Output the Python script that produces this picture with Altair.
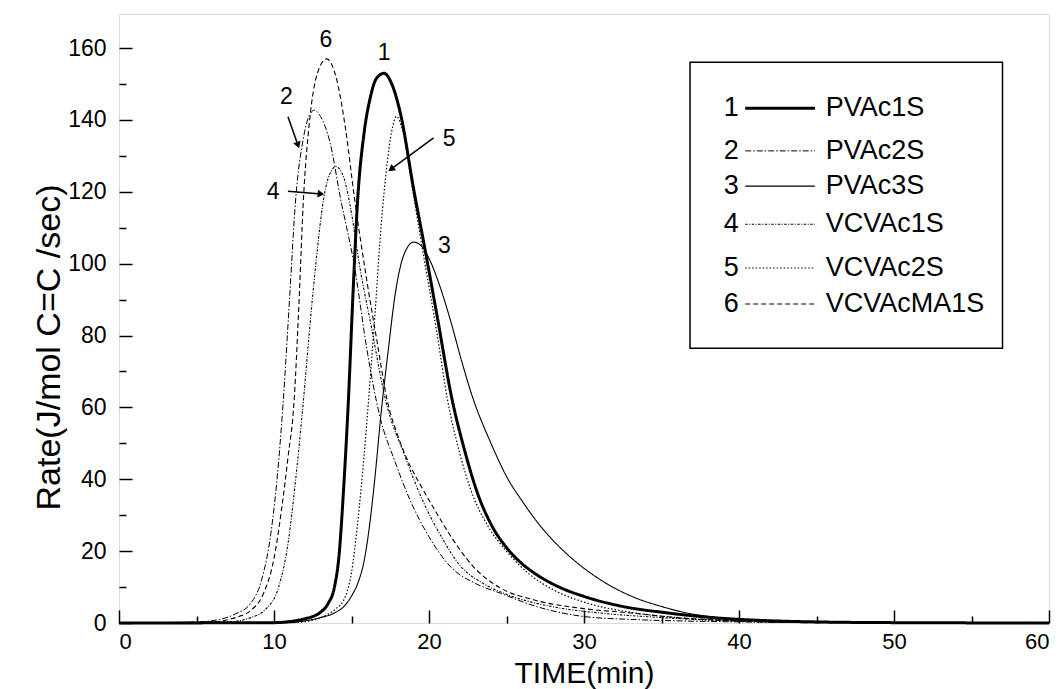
import math
import altair as alt
import pandas as pd

# ---------------- data ----------------
names = ["PVAc1S", "PVAc2S", "PVAc3S", "VCVAc1S", "VCVAc2S", "VCVAcMA1S"]
nums = ["1", "2", "3", "4", "5", "6"]

# 1 PVAc1S (thick solid)
x1 = [0, 10, 11, 12, 12.5, 13, 13.5, 13.9, 14.2, 14.5, 14.8, 15.1, 15.4, 15.8, 16.2, 16.6, 17.1,
      17.6, 18.2, 19.0, 19.7, 20.5, 21.5, 22.3, 23.1, 24.0, 25.0, 26.0, 27, 28.5, 30, 32.5, 35.4, 38, 41, 45, 50, 60]
y1 = [0, 0.1, 0.4, 1.2, 1.8, 3, 5.5, 10, 19, 38, 62, 92, 118, 136, 146, 151.5, 153,
      150, 141, 121, 105, 86, 62, 48, 36.5, 27.5, 21, 16.5, 13.3, 9.8, 7.4, 4.6, 2.8, 1.6, 0.8, 0.3, 0.1, 0]
# 2 PVAc2S (dash-dot)
x2 = [0, 5, 6.5, 7.5, 8.5, 9.2, 9.8, 10.3, 10.6, 11.0, 11.4, 11.9, 12.3, 12.6, 13.0, 13.6, 14.3,
      15.2, 16.0, 16.8, 17.8, 18.8, 20.0, 21.4, 23.0, 24.6, 27.0, 30.0, 33, 36, 40, 45, 60]
y2 = [0, 0.3, 1, 2.5, 5.5, 12, 25, 45, 62, 90, 118, 135, 141.5, 142.7, 141, 134, 118,
      99, 76, 58, 45, 34, 24, 15.6, 11, 8.3, 4.5, 1.8, 1.0, 0.6, 0.3, 0.1, 0]
# 3 PVAc3S (thin solid)
x3 = [0, 11, 12, 13, 13.9, 14.6, 15.0, 15.4, 15.8, 16.1, 16.5, 16.9, 17.4, 17.8, 18.2, 18.6, 19.0, 19.5,
      20.0, 20.6, 21.4, 22.1, 22.8, 24.0, 25.1, 26.0, 27.0, 28.0, 29.0, 31.0, 33.2, 35, 36.5, 38.5, 41, 45, 50, 60]
y3 = [0, 0.1, 0.6, 1.5, 2.8, 5, 7.5, 11, 17, 25, 40, 58, 77, 91, 100, 104.5, 106, 105,
      101.5, 95, 84, 73, 63, 50, 40, 34, 28, 23, 18.8, 12.2, 7.2, 4.6, 2.9, 1.6, 0.8, 0.3, 0.1, 0]
# 4 VCVAc1S (dash-dot-dot)
x4 = [0, 7, 8.5, 9.5, 10.3, 10.9, 11.4, 11.9, 12.3, 12.7, 13.2, 13.6, 14.0, 14.5, 15.0, 15.5,
      16.3, 17.2, 18.4, 19.6, 20.8, 22.0, 23.5, 25.0, 28, 31, 35, 40, 45, 60]
y4 = [0, 0.3, 1.5, 4, 10, 22, 40, 62, 82, 100, 118, 125, 127, 124, 114, 100,
      82, 62, 47, 34, 24, 16, 11, 8, 4.5, 2.8, 1.5, 0.5, 0.2, 0]
# 5 VCVAc2S (dotted)
x5 = [0, 11, 12, 13, 14, 14.5, 15.0, 15.4, 15.8, 16.1, 16.5, 16.9, 17.3, 17.6, 17.9, 18.3, 19.0,
      19.7, 20.5, 21.2, 22.0, 22.7, 23.8, 25.1, 26.5, 28, 30, 33, 36, 40, 45, 60]
y5 = [0, 0.1, 0.4, 1.5, 4, 6.4, 14, 28, 46, 62, 85, 110, 128, 137, 141, 137, 119,
      101, 81, 62, 47, 37, 27, 19.5, 13.5, 9.3, 5.8, 3, 1.5, 0.5, 0.1, 0]
# 6 VCVAcMA1S (dashed)
x6 = [0, 6, 7.5, 8.5, 9.3, 10.0, 10.5, 10.9, 11.3, 11.6, 11.9, 12.3, 12.8, 13.4, 14.0, 14.6, 15.2,
      16.0, 16.7, 17.3, 18.0, 18.7, 19.5, 20.3, 21.5, 22.9, 24.5, 26.8, 30, 33, 36, 40, 45, 60]
y6 = [0, 0.3, 1.5, 3.5, 8, 18, 32, 46, 62, 88, 118, 140, 153, 157, 152, 138, 118,
      95, 77, 62, 52, 44.5, 38, 32, 23.5, 15.5, 10, 6.4, 4, 2.8, 1.5, 0.6, 0.2, 0]

xs_all = [x1, x2, x3, x4, x5, x6]
ys_all = [y1, y2, y3, y4, y5, y6]

# axis ticks
x_major = [0, 10, 20, 30, 40, 50, 60]
x_minor = [5, 15, 25, 35, 45, 55]
y_major = [0, 20, 40, 60, 80, 100, 120, 140, 160]
y_minor = [10, 30, 50, 70, 90, 110, 130, 150]

# curve labels and arrows (data units)
lab_text = ["1", "6", "2", "4", "5", "3"]
lab_x = [17.1, 13.35, 10.8, 9.95, 21.3, 21.0]
lab_y = [158.6, 162.2, 146.3, 119.9, 134.7, 104.8]
arr_x0 = [10.9, 10.9, 20.3]
arr_y0 = [140.9, 120.2, 135.0]
arr_x1 = [11.55, 13.03, 17.55]
arr_y1 = [133.0, 119.4, 126.3]

# legend placement (data units)
leg_box = dict(x=36.84, x2=57.0, y=156.1, y2=76.5)
leg_rows = [143.3, 131.4, 121.6, 111.0, 98.8, 88.8]
leg_num_x = 39.5
leg_line_x0 = 40.4
leg_line_x1 = 44.9
leg_text_x = 45.6

# ---------------- styles ----------------
dashes = [[1, 0], [6, 2, 1.5, 2], [1, 0], [2.5, 1.5, 1, 1.5], [1.5, 2], [5, 3]]
widths = [3.0, 1.0, 1.1, 1.1, 1.2, 1.1]
FONT = "Liberation Sans, Arial, Helvetica, sans-serif"
W, H = 930, 609
XD, YD = [0, 60], [0, 169.5]
kx = W / (XD[1] - XD[0])
ky = H / (YD[1] - YD[0])

xsc = alt.Scale(domain=XD, nice=False, zero=False)
ysc = alt.Scale(domain=YD, nice=False, zero=False)

major_x_axis = alt.Axis(
    orient="bottom", values=x_major, tickSize=13, offset=-13, domain=False, grid=False,
    tickColor="black", tickWidth=1.5, labelColor="black", labelFont=FONT, labelFontSize=22,
    labelPadding=8, format="d", title="TIME(min)", titleFont=FONT, titleFontSize=30,
    titleFontWeight="normal", titleColor="black", titleY=72, titleBaseline="alphabetic")
major_y_axis = alt.Axis(
    orient="left", values=y_major, tickSize=13, offset=-13, domain=False, grid=False,
    tickColor="black", tickWidth=1.5, labelColor="black", labelFont=FONT, labelFontSize=23,
    labelPadding=13, format="d", title="Rate(J/mol C=C /sec)", titleFont=FONT,
    titleFontSize=34, titleFontWeight="normal", titleColor="black", titleAngle=270,
    titleX=-83, titleY=333, titleBaseline="middle")
minor_x_axis = alt.Axis(
    orient="bottom", values=x_minor, tickSize=7, offset=-7, domain=False, grid=False,
    labels=False, title=None, tickColor="black", tickWidth=1.5)
minor_y_axis = alt.Axis(
    orient="left", values=y_minor, tickSize=7, offset=-7, domain=False, grid=False,
    labels=False, title=None, tickColor="black", tickWidth=1.5)

layers = []

# legend box (carries the minor tick axes)
box_df = pd.DataFrame([leg_box])
layers.append(alt.Chart(box_df).mark_rect(fill="white", stroke="black", strokeWidth=1.5).encode(
    x=alt.X("x:Q", scale=xsc, axis=minor_x_axis), x2="x2:Q",
    y=alt.Y("y:Q", scale=ysc, axis=minor_y_axis), y2="y2:Q"))

# curves, one layer each
for k, (n, xs, ys) in enumerate(zip(names, xs_all, ys_all)):
    d = pd.DataFrame({"x": xs, "y": ys, "i": list(range(len(xs)))})
    layers.append(alt.Chart(d).mark_line(
        color="black", interpolate="monotone", strokeDash=dashes[k], strokeWidth=widths[k]
    ).encode(
        x=alt.X("x:Q", scale=xsc, axis=major_x_axis if k == 0 else None),
        y=alt.Y("y:Q", scale=ysc, axis=major_y_axis if k == 0 else None),
        order="i:Q"))

# legend sample lines
for k, n in enumerate(names):
    d = pd.DataFrame({"x": [leg_line_x0, leg_line_x1], "y": [leg_rows[k], leg_rows[k]]})
    layers.append(alt.Chart(d).mark_line(
        color="black", strokeDash=dashes[k], strokeWidth=widths[k]
    ).encode(x=alt.X("x:Q", scale=xsc, axis=None), y=alt.Y("y:Q", scale=ysc, axis=None)))

tdf = pd.DataFrame({"num": nums, "name": names, "y": leg_rows,
                    "xn": [leg_num_x] * 6, "xt": [leg_text_x] * 6})
layers.append(alt.Chart(tdf).mark_text(font=FONT, fontSize=27, color="black", align="center",
                                        baseline="middle").encode(
    x=alt.X("xn:Q", scale=xsc, axis=None), y=alt.Y("y:Q", scale=ysc, axis=None), text="num:N"))
layers.append(alt.Chart(tdf).mark_text(font=FONT, fontSize=27, color="black", align="left",
                                        baseline="middle").encode(
    x=alt.X("xt:Q", scale=xsc, axis=None), y=alt.Y("y:Q", scale=ysc, axis=None), text="name:N"))

# curve labels
adf = pd.DataFrame({"t": lab_text, "x": lab_x, "y": lab_y})
layers.append(alt.Chart(adf).mark_text(font=FONT, fontSize=23, color="black", align="center",
                                        baseline="middle").encode(
    x=alt.X("x:Q", scale=xsc, axis=None), y=alt.Y("y:Q", scale=ysc, axis=None), text="t:N"))

# arrows
angles = []
for a0, b0, a1, b1 in zip(arr_x0, arr_y0, arr_x1, arr_y1):
    angles.append(math.degrees(math.atan2((a1 - a0) * kx, (b1 - b0) * ky)) % 360)
rdf = pd.DataFrame({"x0": arr_x0, "y0": arr_y0, "x1": arr_x1, "y1": arr_y1, "ang": angles})
layers.append(alt.Chart(rdf).mark_rule(color="black", strokeWidth=1.5).encode(
    x=alt.X("x0:Q", scale=xsc, axis=None), y=alt.Y("y0:Q", scale=ysc, axis=None),
    x2="x1:Q", y2="y1:Q"))
layers.append(alt.Chart(rdf).mark_point(shape="triangle-up", filled=True, color="black",
                                         opacity=1, size=60).encode(
    x=alt.X("x1:Q", scale=xsc, axis=None), y=alt.Y("y1:Q", scale=ysc, axis=None),
    angle=alt.Angle("ang:Q", scale=None)))

chart = alt.layer(*layers).resolve_axis(
    x="independent", y="independent"
).properties(
    width=W, height=H,
    padding={"left": 111, "top": 6, "right": 6, "bottom": 66},
    autosize=alt.AutoSizeParams(type="none"),
).configure_view(stroke="black", strokeWidth=2).configure(background="white")

chart.save("out.html", embed_options={"renderer": "svg", "actions": False})
